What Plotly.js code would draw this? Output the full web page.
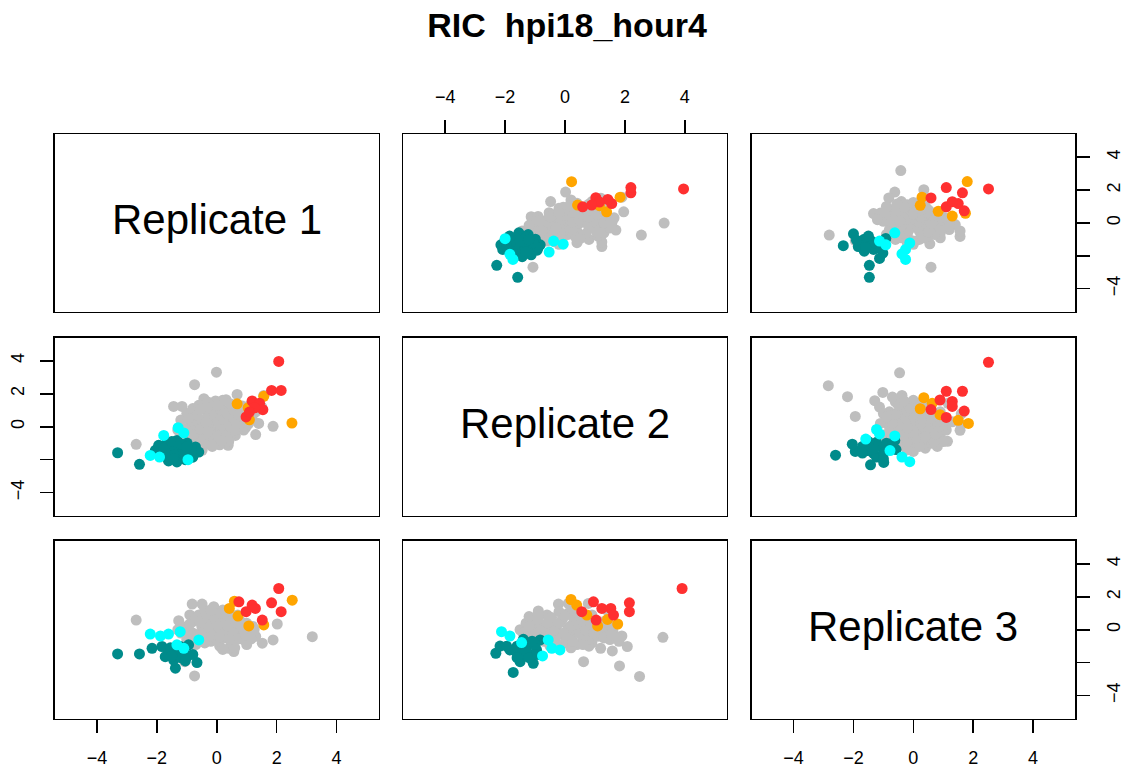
<!DOCTYPE html>
<html>
<head>
<meta charset="utf-8">
<script src="https://cdn.plot.ly/plotly-3.0.1.min.js"></script>
<style>html,body{margin:0;padding:0;background:#fff;}#plot{width:1123px;height:768px;}</style>
</head>
<body>
<div id="plot"></div>
<script>
// ---------------- DATA ----------------
const replicateNames = ["Replicate 1", "Replicate 2", "Replicate 3"];
const chartTitle = "RIC \u00a0hpi18_hour4";
const tickValues = [-4, -2, 0, 2, 4];
const xTickText = ["\u22124", "\u22122", "0", "2", "4"];
const yTickText = ["\u22124", "", "0", "2", "4"];
const groupNames = ["grey", "darkcyan", "cyan", "orange", "red"];
const groupColors = ["#BEBEBE", "#008B8B", "#00FFFF", "#FFA500", "#FF3030"];

// Replicate 1 (x) vs Replicate 2 (y)
const rep1_rep2_grey = [[-0.01,3.31],[-0.74,2.55],[1.88,0.02],[1.30,-0.48],[-2.69,-1.07],[1.57,1.90],[-1.44,1.23],[-1.16,1.23],[0.38,-1.13],[0.68,1.96],[-0.49,-1.43],[-0.43,1.70],[-0.04,1.56],[0.31,1.64],[0.62,-0.53],[0.96,-0.06],
 [-1.1,-0.6],[-0.9,-0.3],[-0.8,-0.8],[-0.7,0.1],[-0.6,-0.4],[-0.5,0.4],[-0.5,-1.0],[-0.4,0.0],[-0.3,-0.6],[-0.3,0.8],[-0.2,0.3],[-0.2,-0.2],[-0.1,1.0],[-0.1,-0.9],[0.0,0.5],[0.0,-0.3],[0.1,0.1],[0.1,1.3],[0.2,-0.6],[0.2,0.7],[0.3,0.2],[0.3,-0.2],[0.4,1.0],[0.4,0.5],[0.5,-0.4],[0.5,0.2],[0.6,0.8],[0.6,1.3],[0.7,0.0],[0.7,0.5],[0.8,1.0],[0.9,0.3],[0.9,-0.2],[1.0,0.8],[1.1,1.3],[1.2,0.4],[1.3,0.9],[-1.2,0.4],[-1.0,0.8],[-0.8,1.1],[-0.6,1.3],[-0.3,1.5],[0.2,1.6],[-0.9,-1.1],[-0.6,-1.2],[0.1,-1.1],[0.4,-0.9],[1.5,1.2],[1.4,0.2],[-1.3,-0.2],
 [-1.0,-0.1],[-0.85,0.35],[-0.75,-0.5],[-0.65,0.7],[-0.55,-0.15],[-0.45,-0.75],[-0.35,0.25],[-0.25,1.15],[-0.15,-0.45],[-0.05,0.75],[0.05,0.25],[0.05,-0.6],[0.15,1.0],[0.25,-0.1],[0.25,0.45],[0.35,0.8],[0.35,-0.5],[0.45,0.0],[0.55,0.55],[0.55,1.05],[0.65,0.25],[0.75,0.75],[0.85,0.05],[0.85,1.25],[0.95,0.55],[1.05,0.15],[1.15,0.8],[1.25,1.15],[-0.95,0.5],[-0.75,-1.0],[-0.4,-1.1],[-0.15,-1.2],[0.15,-0.85],[0.6,-0.2],[-1.15,-0.35],[-0.55,1.05],[0.0,1.3],[0.45,1.4],[1.0,1.05],[-0.3,-0.3]];
const rep1_rep2_darkcyan = [[-3.31,-1.58],[-2.58,-2.28],[-1.94,-1.13],[-1.66,-0.93],[-1.33,-0.83],[-0.99,-0.99],[-0.71,-1.23],[-0.60,-1.54],[-0.94,-1.64],[-1.27,-1.84],[-1.61,-2.08],[-1.33,-2.14],[-1.55,-1.54],[-1.83,-1.54],[-1.22,-1.33],[-1.49,-1.13],[-2.05,-1.43],[-1.05,-2.0],
 [-1.75,-1.3],[-1.4,-1.7],[-1.1,-1.5],[-0.85,-1.3],[-1.5,-0.9],[-1.2,-1.05],[-0.8,-1.85],[-1.7,-1.8],[-1.45,-1.95],[-1.0,-1.2]];
const rep1_rep2_cyan = [[-1.77,-0.53],[-2.22,-1.74],[-1.91,-1.84],[-0.96,-2.00],[-1.10,-0.38],[-1.29,-0.06]];
const rep1_rep2_orange = [[2.51,0.22],[1.05,1.15],[0.68,1.39],[1.09,0.42],[1.57,1.84]];
const rep1_rep2_red = [[2.07,3.96],[1.83,2.20],[2.15,2.20],[1.18,1.56],[1.43,1.43],[1.54,1.03],[1.27,1.15],[0.98,0.59],[1.09,0.89]];

// Replicate 1 (x) vs Replicate 3 (y)
const rep1_rep3_grey = [[-2.69,0.59],[3.19,-0.42],[2.02,0.35],[1.88,-0.62],[1.52,-0.82],[0.57,-1.33],[-0.74,-2.81],[-1.07,-1.94],[-0.82,1.56],[-0.49,1.56],[-0.10,1.40],[-1.27,0.55],[0.40,-1.13],
 [-1.2,-0.2],[-1.0,0.2],[-1.0,-0.6],[-0.8,0.5],[-0.8,-0.2],[-0.7,-0.9],[-0.6,0.9],[-0.5,0.2],[-0.5,-0.4],[-0.4,1.2],[-0.3,0.6],[-0.3,-0.1],[-0.2,-0.7],[-0.1,0.3],[-0.1,1.0],[0.0,-0.3],[0.1,0.7],[0.1,-1.0],[0.2,0.1],[0.2,1.2],[0.3,-0.5],[0.3,0.5],[0.4,0.9],[0.4,-0.1],[0.5,-0.8],[0.5,0.3],[0.6,0.7],[0.7,-0.3],[0.7,0.1],[0.8,0.5],[0.9,-0.6],[0.9,0.0],[1.0,0.4],[1.1,-0.2],[1.2,0.2],[1.3,-0.4],[-0.6,-0.6],[0.0,0.0],[-0.2,0.4],[0.6,-1.1],[0.2,-1.2],[1.0,-0.9],[-1.3,0.0],[-0.9,0.9],
 [-1.1,0.0],[-0.9,-0.4],[-0.9,0.35],[-0.7,0.7],[-0.65,-0.3],[-0.55,0.5],[-0.45,-0.15],[-0.4,-0.8],[-0.35,0.9],[-0.25,0.15],[-0.15,-0.4],[-0.05,0.6],[0.05,-0.7],[0.05,0.2],[0.15,1.0],[0.25,-0.25],[0.35,0.25],[0.45,0.65],[0.45,-0.6],[0.55,0.0],[0.65,0.45],[0.75,-0.55],[0.8,0.25],[0.95,-0.3],[1.05,0.1],[1.15,-0.55],[0.3,1.1],[-0.2,1.2],[0.7,0.9],[-0.8,-0.7],[0.1,-0.45],[1.25,0.0]];
const rep1_rep3_darkcyan = [[-3.31,-1.47],[-2.58,-1.47],[-2.16,-1.13],[-1.83,-1.02],[-1.61,-1.33],[-1.38,-1.43],[-1.38,-2.34],[-1.44,-1.84],[-0.66,-2.00],[-0.99,-1.64],[-1.22,-1.02],[-0.94,-0.92],[-1.72,-1.64],
 [-1.55,-1.1],[-1.25,-1.25],[-1.1,-1.4],[-1.2,-1.7],[-0.8,-1.5],[-1.5,-1.6],[-1.05,-1.9]];
const rep1_rep3_cyan = [[-2.22,-0.26],[-1.88,-0.38],[-1.61,-0.26],[-0.60,-0.62],[-1.10,-1.13],[-1.33,-0.92],[-1.22,-0.12]];
const rep1_rep3_orange = [[2.52,1.80],[0.59,1.74],[1.07,0.23],[1.57,0.29],[0.71,0.83],[0.42,1.30]];
const rep1_rep3_red = [[2.07,2.51],[1.83,1.64],[2.15,1.10],[1.18,1.50],[1.52,0.59],[0.98,1.10],[1.29,1.30],[0.74,1.70]];

// Replicate 2 (x) vs Replicate 3 (y)
const rep2_rep3_grey = [[3.27,-0.46],[2.49,-2.84],[1.82,-2.20],[0.62,-1.94],[2.08,-1.02],[1.58,-1.29],[1.19,-1.13],[1.90,-0.38],[-0.89,1.14],[-0.22,1.56],[1.42,1.16],[0.78,1.60],[0.11,1.60],
 [-1.5,0.0],[-1.3,0.4],[-1.2,-0.3],[-1.0,0.6],[-1.0,0.0],[-0.8,-0.5],[-0.8,0.3],[-0.6,0.9],[-0.6,-0.1],[-0.5,0.5],[-0.4,-0.6],[-0.3,0.2],[-0.2,1.1],[-0.2,-0.3],[-0.1,0.6],[0.0,-0.8],[0.1,0.1],[0.1,1.0],[0.2,-0.4],[0.3,0.5],[0.4,-0.9],[0.4,0.0],[0.5,0.9],[0.6,-0.5],[0.6,0.3],[0.7,0.7],[0.8,-0.2],[0.9,-0.8],[1.0,0.2],[1.0,0.6],[1.1,-0.4],[1.2,0.1],[1.3,0.5],[1.4,-0.2],[1.5,-0.6],[1.6,0.0],[1.7,-0.4],[-0.5,-1.0],[0.2,-1.1],[-1.2,0.8],[0.8,-1.0],[0.3,1.3],[-0.9,1.0],
 [-1.4,-0.2],[-1.2,0.2],[-1.1,-0.5],[-0.9,0.7],[-0.9,-0.2],[-0.7,0.1],[-0.7,-0.7],[-0.5,-0.3],[-0.45,0.75],[-0.35,0.0],[-0.3,-0.8],[-0.2,0.4],[-0.05,-0.2],[0.0,0.85],[0.05,-0.5],[0.2,0.25],[0.25,-0.7],[0.3,0.8],[0.45,0.3],[0.5,-0.25],[0.55,0.6],[0.7,0.0],[0.75,-0.6],[0.85,0.45],[0.95,-0.2],[1.1,0.35],[1.15,-0.1],[1.3,-0.5],[1.35,0.25],[1.5,0.3],[1.55,-0.3],[-0.6,0.4],[0.4,1.05],[0.9,0.9],[1.8,-0.7],[0.6,-0.9]];
const rep2_rep3_darkcyan = [[-1.73,-2.60],[-2.31,-1.43],[-2.17,-0.99],[-1.50,-1.94],[-1.06,-2.04],[-1.62,-1.33],[-1.28,-1.02],[-0.95,-1.23],[-0.83,-0.62],[-1.39,-0.58],[-1.84,-1.23],[-1.11,-1.53],[-1.45,-1.53],
 [-1.6,-1.0],[-1.3,-1.3],[-1.2,-1.7],[-1.0,-0.9],[-0.9,-1.5],[-1.6,-1.7],[-1.95,-1.0],[-1.1,-0.7]];
const rep2_rep3_cyan = [[-2.12,-0.12],[-1.84,-0.38],[-1.45,-0.78],[-0.56,-0.62],[-0.44,-1.13],[-0.17,-1.23],[-0.75,-1.59]];
const rep2_rep3_orange = [[0.20,1.84],[1.09,0.23],[1.76,0.35],[1.42,0.63],[0.39,1.50],[0.73,0.89]];
const rep2_rep3_red = [[3.91,2.51],[2.15,1.64],[2.15,1.10],[0.56,1.10],[0.95,1.70],[1.53,1.30],[1.04,0.59],[1.23,1.30],[1.62,0.89]];

// ---------------- LAYOUT ----------------
const W = 1123, H = 768;
const colPx = [[55, 378.5], [403.3, 726.7], [751.7, 1075]];
const rowPx = [[134.2, 311.7], [337.7, 515.7], [541, 718.5]];
const FONT = "Liberation Sans, Arial, Helvetica, sans-serif";

const pairSets = {
  "1-2": [rep1_rep2_grey, rep1_rep2_darkcyan, rep1_rep2_cyan, rep1_rep2_orange, rep1_rep2_red],
  "1-3": [rep1_rep3_grey, rep1_rep3_darkcyan, rep1_rep3_cyan, rep1_rep3_orange, rep1_rep3_red],
  "2-3": [rep2_rep3_grey, rep2_rep3_darkcyan, rep2_rep3_cyan, rep2_rep3_orange, rep2_rep3_red]
};

function sfx(k) { return k === 1 ? "" : String(k); }

const traces = [];
const layout = {
  width: W, height: H,
  margin: {l: 0, r: 0, t: 0, b: 0},
  paper_bgcolor: "#ffffff", plot_bgcolor: "#ffffff",
  showlegend: false,
  font: {family: FONT, color: "#000000"},
  title: {
    text: chartTitle,
    font: {family: FONT, size: 34, weight: "bold", color: "#000000"},
    xref: "paper", x: 567 / W, xanchor: "center",
    yref: "container", y: 1 - 25 / H, yanchor: "middle"
  },
  annotations: []
};

for (let r = 0; r < 3; r++) {
  for (let c = 0; c < 3; c++) {
    const k = r * 3 + c + 1;
    const xa = {
      domain: [colPx[c][0] / W, colPx[c][1] / W],
      anchor: "y" + sfx(k),
      range: [-5.4, 5.4],
      showline: true, mirror: true, linecolor: "#000000", linewidth: 1.6,
      showgrid: false, zeroline: false, fixedrange: true,
      ticks: "", showticklabels: false
    };
    const ya = {
      domain: [1 - rowPx[r][1] / H, 1 - rowPx[r][0] / H],
      anchor: "x" + sfx(k),
      range: [-5.4, 5.4],
      showline: true, mirror: true, linecolor: "#000000", linewidth: 1.6,
      showgrid: false, zeroline: false, fixedrange: true,
      ticks: "", showticklabels: false
    };
    const xTicked = (k === 2 || k === 7 || k === 9);
    const yTicked = (k === 4 || k === 3 || k === 9);
    if (xTicked) {
      Object.assign(xa, {
        ticks: "outside", ticklen: 13, tickwidth: 1.6, tickcolor: "#000000",
        tickmode: "array", tickvals: tickValues, ticktext: xTickText,
        showticklabels: true, tickfont: {family: FONT, size: 18, color: "#000000"},
        ticklabelstandoff: 9,
        side: k === 2 ? "top" : "bottom"
      });
    }
    if (yTicked) {
      Object.assign(ya, {
        ticks: "outside", ticklen: 13, tickwidth: 1.6, tickcolor: "#000000",
        tickmode: "array", tickvals: tickValues, ticktext: yTickText,
        showticklabels: true, tickfont: {family: FONT, size: 18, color: "#000000"},
        tickangle: -90, ticklabelstandoff: 9,
        side: k === 4 ? "left" : "right"
      });
    }
    layout["xaxis" + sfx(k)] = xa;
    layout["yaxis" + sfx(k)] = ya;

    if (r === c) {
      layout.annotations.push({
        xref: "x" + sfx(k), yref: "y" + sfx(k), x: 0, y: 0,
        text: replicateNames[r], showarrow: false,
        font: {family: FONT, size: 42, color: "#000000"},
        xanchor: "center", yanchor: "middle", yshift: 3
      });
    } else {
      // column variable on x, row variable on y
      const lo = Math.min(r, c) + 1, hi = Math.max(r, c) + 1;
      const sets = pairSets[lo + "-" + hi];
      const swap = (c + 1) !== lo; // data stored as (lower index, higher index)
      sets.forEach((pts, g) => {
        traces.push({
          type: "scatter", mode: "markers",
          x: pts.map(p => swap ? p[1] : p[0]),
          y: pts.map(p => swap ? p[0] : p[1]),
          xaxis: "x" + sfx(k), yaxis: "y" + sfx(k),
          name: groupNames[g],
          marker: {size: 11, color: groupColors[g], line: {width: 0}},
          hoverinfo: "skip", showlegend: false, cliponaxis: true
        });
      });
    }
  }
}

Plotly.newPlot("plot", traces, layout, {staticPlot: true, displayModeBar: false});
</script>
</body>
</html>
